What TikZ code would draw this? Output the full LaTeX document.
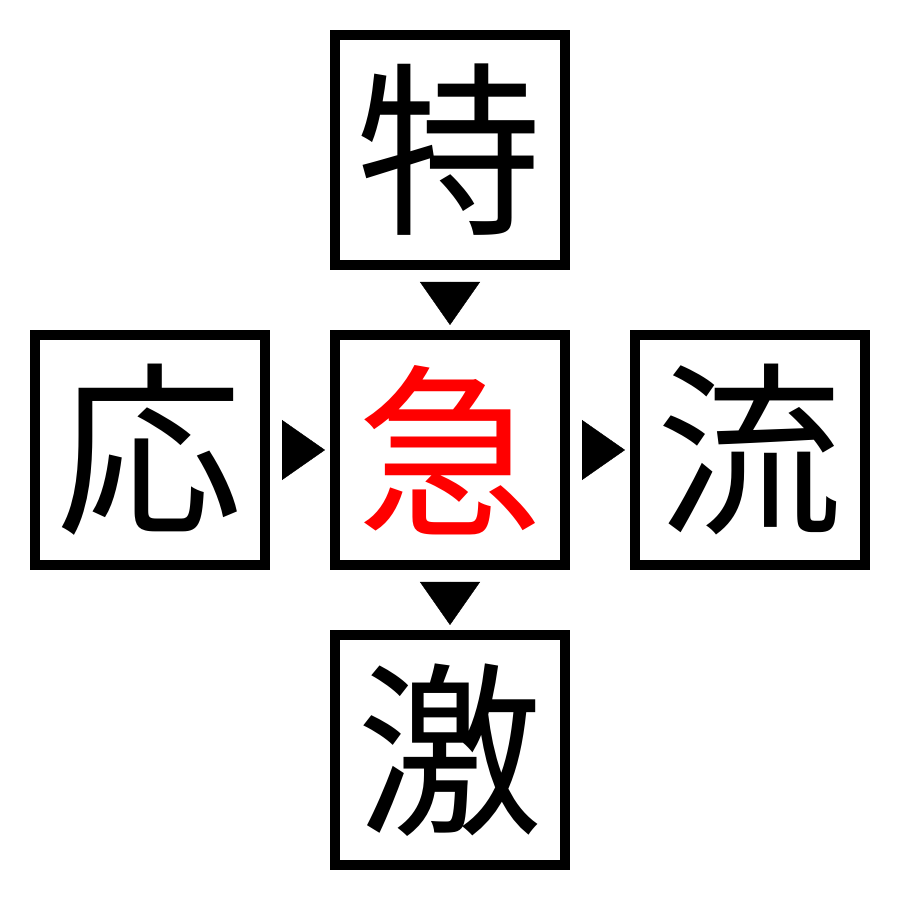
\documentclass[tikz,border=0pt]{standalone}
\usepackage{fontspec}
\newfontfamily\jpfont{Noto Sans CJK JP}
\usetikzlibrary{positioning}
\usetikzlibrary{arrows.meta}
\tikzset{
    kbox/.style = {rectangle, draw=black, line width=0.1cm, minimum size=2.3cm, inner sep=0pt, fill=white, font=\fontsize{53pt}{53pt}\selectfont\jpfont},
    kboxr/.style = {kbox, text=red},
    pointer/.style = {-{Triangle[length=0.43cm,width=0.6cm]}, line width=0.1pt, shorten >=0.05cm, shorten <=0.12cm},
}
\begin{document}
\begin{tikzpicture}
%
\useasboundingbox (0,0) rectangle (9,9);
\node[kbox] at (4.5, 7.5) (toku) {特};
\node[kbox] at (1.5, 4.5) (ou) {応};
\node[kboxr] at (4.5, 4.5) (kyu) {急};
\node[kbox] at (7.5, 4.5) (ryu) {流};
\node[kbox] at (4.5, 1.5) (geki) {激};
%
\draw[pointer] (toku.south) -- (kyu.north);
\draw[pointer] (ou.east) -- (kyu.west);
\draw[pointer] (kyu.east) -- (ryu.west);
\draw[pointer] (kyu.south) -- (geki.north);

\end{tikzpicture}
\end{document}
